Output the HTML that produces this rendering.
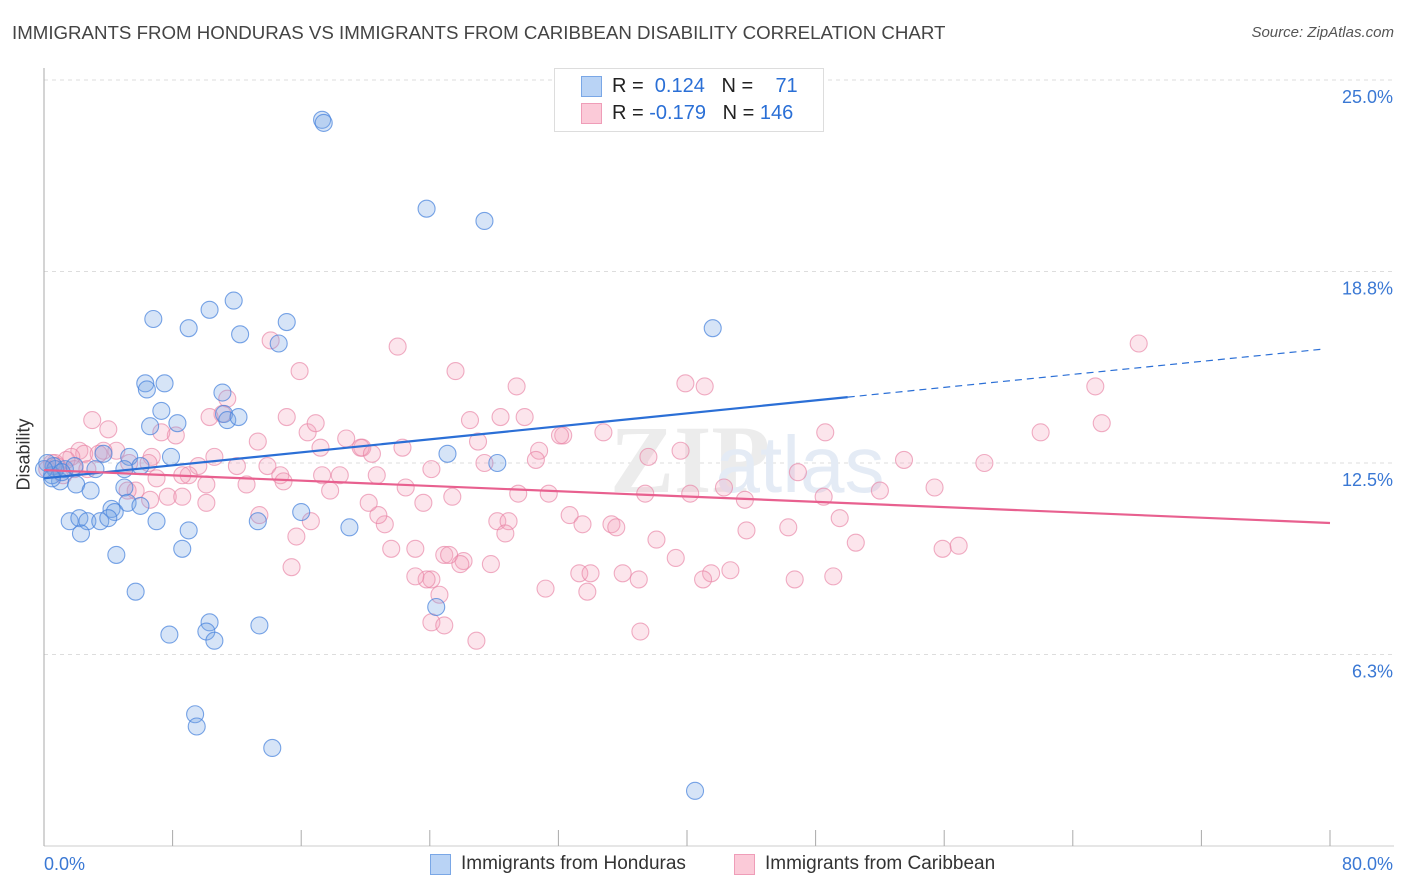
<!DOCTYPE html>
<html><head><meta charset="utf-8"><style>
body{margin:0;background:#fff;font-family:"Liberation Sans",sans-serif;}
#wrap{position:relative;width:1406px;height:892px;overflow:hidden;}
.t{position:absolute;white-space:nowrap;}
</style></head><body>
<div id="wrap">
<div class="t" style="left:12px;top:22px;font-size:18.7px;color:#444;">IMMIGRANTS FROM HONDURAS VS IMMIGRANTS FROM CARIBBEAN DISABILITY CORRELATION CHART</div>
<div class="t" style="right:12px;top:24px;font-size:15px;color:#555;font-style:italic;">Source: ZipAtlas.com</div>
<svg id="plot" width="1406" height="892" style="position:absolute;left:0;top:0"></svg>
<div class="t" style="left:-12px;top:444px;font-size:18px;color:#333;transform:rotate(-90deg);">Disability</div>
<div style="position:absolute;left:554px;top:68px;width:268px;height:62px;border:1px solid #ddd;background:#fff;">
 <div style="position:absolute;left:26px;top:7px;width:19px;height:19px;background:#b9d3f5;border:1px solid #7aa7e6;"></div>
 <div class="t" style="left:57px;top:6px;font-size:20px;color:#222;">R = &nbsp;<span style="color:#2a6fd6">0.124</span>&nbsp;&nbsp;&nbsp;N = &nbsp;&nbsp;&nbsp;<span style="color:#2a6fd6">71</span></div>
 <div style="position:absolute;left:26px;top:34px;width:19px;height:19px;background:#fbcad8;border:1px solid #ef9db8;"></div>
 <div class="t" style="left:57px;top:33px;font-size:20px;color:#222;">R = <span style="color:#2a6fd6">-0.179</span>&nbsp;&nbsp;&nbsp;N = <span style="color:#2a6fd6">146</span></div>
</div>
<div style="position:absolute;left:430px;top:854px;width:19px;height:19px;background:#b9d3f5;border:1px solid #7aa7e6;"></div>
<div class="t" style="left:461px;top:853px;font-size:19px;color:#333;">Immigrants from Honduras</div>
<div style="position:absolute;left:734px;top:854px;width:19px;height:19px;background:#fbcad8;border:1px solid #ef9db8;"></div>
<div class="t" style="left:765px;top:853px;font-size:19px;color:#333;">Immigrants from Caribbean</div>
</div>
<script>
const xTickLabels=["0.0%","80.0%"];
const yTickValues=[6.25,12.5,18.75,25];
const yTickLabels=["6.3%","12.5%","18.8%","25.0%"];
const hondX=[17.3,17.4,23.8,27.4,41.6,6.8,9.0,10.3,11.8,12.2,15.1,14.6,6.3,7.5,6.4,11.1,7.3,6.6,8.3,11.2,11.4,12.1,7.9,5.3,3.7,25.1,28.2,0.6,1.3,1.9,3.2,5.0,6.0,1.0,2.0,2.9,5.0,0.5,4.2,4.4,5.2,6.0,1.6,2.2,2.7,3.5,4.0,7.0,13.3,16.0,19.0,2.3,9.0,8.6,4.5,5.7,24.4,10.3,10.1,7.8,10.6,13.4,9.4,9.5,14.2,40.5,0.2,0.7,1.1,0,0.5];
const hondY=[23.7,23.6,20.8,20.4,16.9,17.2,16.9,17.5,17.8,16.7,17.1,16.4,15.1,15.1,14.9,14.8,14.2,13.7,13.8,14.1,13.9,14.0,12.7,12.7,12.8,12.8,12.5,12.4,12.3,12.4,12.3,12.3,12.4,11.9,11.8,11.6,11.7,12.1,11.0,10.9,11.2,11.1,10.6,10.7,10.6,10.6,10.7,10.6,10.6,10.9,10.4,10.2,10.3,9.7,9.5,8.3,7.8,7.3,7.0,6.9,6.7,7.2,4.3,3.9,3.2,1.8,12.5,12.3,12.2,12.3,12.0];
const caribX=[68.1,65.4,65.8,62.0,48.6,58.5,53.5,55.4,52.0,46.9,48.5,49.5,50.5,55.9,56.9,49.1,46.7,46.3,43.7,43.6,42.3,42.7,41.5,41.0,40.2,39.9,41.1,39.6,37.6,37.4,38.1,39.3,37.0,37.1,34.8,32.3,32.1,31.4,32.7,33.5,35.3,35.6,33.3,34.0,33.8,31.2,36.0,29.4,30.8,30.6,29.5,27.4,27.0,26.5,28.4,29.9,28.2,28.9,28.7,27.8,26.1,25.9,26.9,25.6,25.4,24.9,25.2,24.1,23.8,23.1,24.6,24.1,24.9,22.0,22.3,22.5,23.6,24.1,23.1,21.6,21.2,20.8,19.8,18.8,19.7,20.4,20.7,20.2,18.4,17.8,17.3,16.6,15.7,15.4,15.9,15.1,16.4,16.9,17.2,14.1,11.4,11.1,10.3,13.3,12.0,12.6,13.9,14.7,14.9,13.4,10.6,10.1,10.1,9.6,9.0,8.6,7.7,8.6,8.2,7.3,6.7,6.5,7.0,6.6,5.7,5.2,5.3,4.5,4.0,3.0,2.2,2.5,3.7,3.4,1.7,1.4,0.7,1.2,1.9,0.5,2.7,0.2,0.8];
const caribY=[16.4,15.0,13.8,13.5,13.5,12.5,12.6,11.7,11.6,12.2,11.4,10.7,9.9,9.7,9.8,8.8,8.7,10.4,10.3,11.3,11.7,9.0,8.9,8.7,11.5,15.1,15.0,12.9,12.7,11.5,10.0,9.4,8.7,7.0,13.5,13.4,13.4,11.5,10.8,10.5,10.5,10.4,8.9,8.9,8.3,8.4,8.9,15.0,12.9,12.6,11.5,12.5,13.2,13.9,14.0,14.0,10.6,10.6,10.2,9.2,9.3,9.2,6.7,15.5,11.4,9.5,9.5,8.7,8.7,8.8,8.2,7.3,7.2,16.3,13.0,11.7,11.2,12.3,9.7,9.7,10.5,10.8,13.0,13.3,13.0,12.8,12.1,11.2,12.1,11.6,12.1,10.6,10.1,9.1,15.5,14.0,13.5,13.8,13.0,16.5,14.6,14.1,14.0,13.2,12.4,11.8,12.4,12.1,11.9,10.8,12.7,11.8,11.2,12.4,12.1,12.1,11.4,11.4,13.4,13.5,12.7,12.5,12.0,11.3,11.6,11.6,12.5,12.9,13.6,13.9,12.9,12.8,12.9,12.8,12.7,12.6,12.5,12.1,12.3,12.5,12.3,12.3,12.4];
const hondTrend=[12.0,0.053];   // intercept, slope per %
const caribTrend=[12.27,-0.0216];
const hondSolidEnd=50;

const X0=44,X1=1330,Y0=846,YTOP=80;
const sx=v=>X0+(v/80)*(X1-X0);
const sy=v=>Y0-(v/25)*(Y0-YTOP);
const svg=document.getElementById('plot');
const NS='http://www.w3.org/2000/svg';
function mk(tag,attrs){const e=document.createElementNS(NS,tag);for(const k in attrs)e.setAttribute(k,attrs[k]);svg.appendChild(e);return e;}

yTickValues.forEach((v,i)=>{
  const g=mk('line',{x1:X0,x2:1394,y1:sy(v),y2:sy(v),stroke:'#ddd','stroke-dasharray':'4,4'});
  
  
  const t=mk('text',{x:1393,y:sy(v)+23,'text-anchor':'end','font-size':18,fill:'#3a78d4','font-family':'Liberation Sans'});
  t.textContent=yTickLabels[i];
  
  
});
const ax=mk('line',{x1:X0,x2:X0,y1:68,y2:Y0,stroke:'#aaa'});


const bx=mk('line',{x1:X0,x2:1394,y1:Y0,y2:Y0,stroke:'#ccc'});


for(let p=0;p<=80;p+=8){
  const tk=mk('line',{x1:sx(p),x2:sx(p),y1:Y0-16,y2:Y0,stroke:'#aaa'});
  
  
}
[[0,'start',X0],[1,'end',1393]].forEach(([i,a,x])=>{
  const t=mk('text',{x:x,y:870,'text-anchor':a,'font-size':18,fill:'#3a78d4','font-family':'Liberation Sans'});
  t.textContent=xTickLabels[i];
  
  
});
const wm=mk('text',{x:690,y:492,'text-anchor':'middle','font-size':96,fill:'#ececec','font-family':'Liberation Serif','font-weight':'bold'});
wm.textContent='ZIP';


const wm2=mk('text',{x:800,y:492,'text-anchor':'middle','font-size':80,fill:'#e4ebf5','font-family':'Liberation Sans'});
wm2.textContent='atlas';



caribX.forEach((x,i)=>{
  const c=mk('circle',{cx:sx(x),cy:sy(caribY[i]),r:8.5,fill:'rgba(246,160,188,0.28)',stroke:'rgba(232,130,165,0.65)','stroke-width':1.1});
  
  
});
hondX.forEach((x,i)=>{
  const c=mk('circle',{cx:sx(x),cy:sy(hondY[i]),r:8.5,fill:'rgba(120,165,230,0.3)',stroke:'rgba(70,130,220,0.72)','stroke-width':1.1});
  
  
});
const f=(t,x)=>t[0]+t[1]*x;
const l1=mk('line',{x1:sx(0),y1:sy(f(hondTrend,0)),x2:sx(hondSolidEnd),y2:sy(f(hondTrend,hondSolidEnd)),stroke:'#2b6fd6','stroke-width':2.2});


const l2=mk('line',{x1:sx(hondSolidEnd),y1:sy(f(hondTrend,hondSolidEnd)),x2:sx(79.7),y2:sy(f(hondTrend,79.7)),stroke:'#2b6fd6','stroke-width':1.2,'stroke-dasharray':'7,5'});


const l3=mk('line',{x1:sx(0),y1:sy(f(caribTrend,0)),x2:sx(80),y2:sy(f(caribTrend,80)),stroke:'#e8608f','stroke-width':2.2});


</script>
</body></html>
